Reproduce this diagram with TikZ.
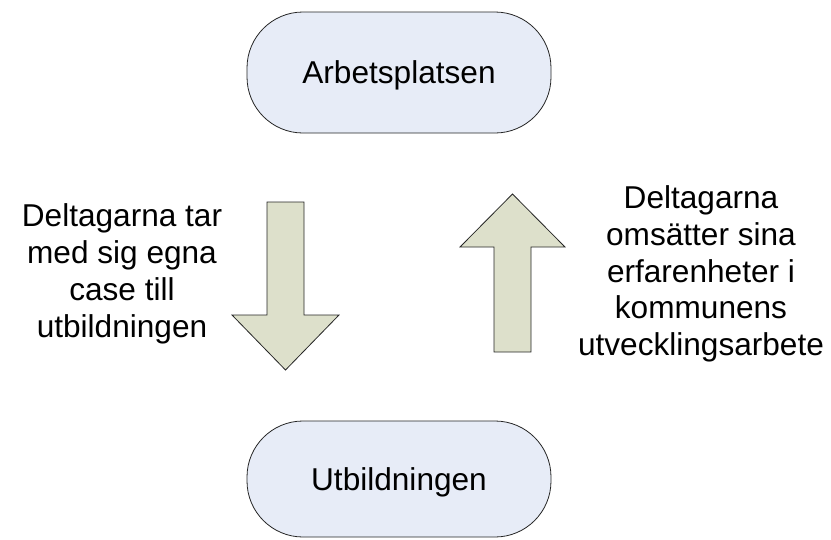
\documentclass[tikz,border=0pt]{standalone}
\usepackage{fontspec}
\setmainfont{Liberation Sans}
\definecolor{boxblue}{RGB}{231,236,247}
\definecolor{arrowgreen}{RGB}{221,224,203}
\begin{document}
\begin{tikzpicture}[x=1pt,y=-1pt,
    stadium/.style={draw=black!85, line width=0.8pt, fill=boxblue,
      rounded corners=56pt, minimum width=304pt, minimum height=121pt,
      font=\fontsize{31.6}{36.8}\selectfont, text height=22.6pt, text depth=0pt},
    note/.style={align=center, inner sep=0pt, font=\fontsize{31.6}{36.8}\selectfont},
    blockarrow/.style={draw=black!85, line width=0.8pt, fill=arrowgreen, line join=miter}]
      \useasboundingbox (0,0) rectangle (831,539);
      \draw
        (399,72.5) node[stadium] (arbets){Arbetsplatsen}
        (399,479) node[stadium, minimum height=116pt] (utbild){Utbildningen}
        (122,274) node[note] (ner){Deltagarna tar\\med sig egna\\case till\\utbildningen}
        (701,274) node[note] (upp){Deltagarna\\omsätter sina\\erfarenheter i\\kommunens\\utvecklingsarbete};
      \filldraw[blockarrow] (267,202) -- (304,202) -- (304,315) -- (339,315) -- (285.5,370)
        -- (232,315) -- (267,315) -- cycle;
      \filldraw[blockarrow] (494,352) -- (531,352) -- (531,247) -- (565,247) -- (512.5,194)
        -- (460,247) -- (494,247) -- cycle;
    \end{tikzpicture}
\end{document}
